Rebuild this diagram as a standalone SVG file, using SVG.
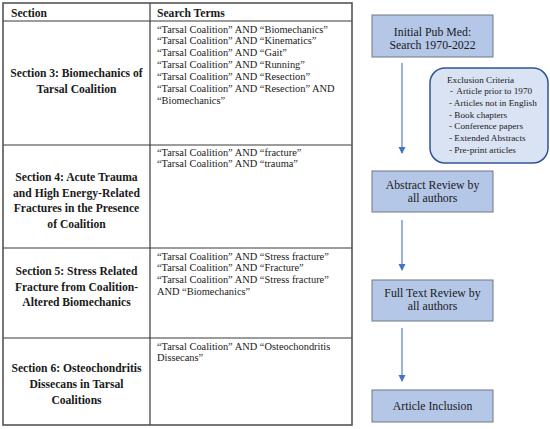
<svg xmlns="http://www.w3.org/2000/svg" width="550" height="429" viewBox="0 0 550 429">
<style>
.grid{stroke:#3a3a3a;stroke-width:1.2;fill:none}
.outer{stroke:#555;stroke-width:1.6;fill:none}
.hd{font-family:"Liberation Serif",serif;font-weight:bold;font-size:11.6px;fill:#1a1a1a}
.sec{font-family:"Liberation Serif",serif;font-weight:bold;font-size:11.6px;fill:#1a1a1a;text-anchor:middle}
.term{font-family:"Liberation Serif",serif;font-size:10.4px;fill:#1a1a1a}
.box{fill:#B4C7E7;stroke:#6f7785;stroke-width:1}
.bt{font-family:"Liberation Serif",serif;font-size:11.8px;fill:#1a1a1a;text-anchor:middle}
.ex{font-family:"Liberation Serif",serif;font-size:9.2px;fill:#1a1a1a}
.arr{stroke:#4472C4;stroke-width:1.1;fill:none}
</style>
<defs>
<marker id="ah" markerWidth="8" markerHeight="8" refX="6" refY="3.5" orient="auto" markerUnits="userSpaceOnUse">
<path d="M0,0 L7,3.5 L0,7 Z" fill="#4472C4"/>
</marker>
</defs>
<rect width="550" height="429" fill="#fff"/>
<g id="table">
<line class="grid" x1="150" y1="3" x2="150" y2="425"/>
<line class="grid" x1="3" y1="21" x2="352" y2="21"/>
<line class="grid" x1="3" y1="145" x2="352" y2="145"/>
<line class="grid" x1="3" y1="248" x2="352" y2="248"/>
<line class="grid" x1="3" y1="338" x2="352" y2="338"/>
<rect class="outer" x="3" y="3" width="349" height="422"/>
<text class="hd" x="11" y="17">Section</text>
<text class="hd" x="157" y="17">Search Terms</text>
</g>
<g id="row3">
<text class="sec" x="76.5" y="77">Section 3: Biomechanics of</text>
<text class="sec" x="76.5" y="93">Tarsal Coalition</text>
<text class="term" x="157" y="32.5">“Tarsal Coalition” AND “Biomechanics”</text>
<text class="term" x="157" y="44.4">“Tarsal Coalition” AND “Kinematics”</text>
<text class="term" x="157" y="56.3">“Tarsal Coalition” AND “Gait”</text>
<text class="term" x="157" y="68.2">“Tarsal Coalition” AND “Running”</text>
<text class="term" x="157" y="80.1">“Tarsal Coalition” AND “Resection”</text>
<text class="term" x="157" y="92">“Tarsal Coalition” AND “Resection” AND</text>
<text class="term" x="157" y="103.9">“Biomechanics”</text>
</g>
<g id="row4">
<text class="sec" x="76.5" y="181">Section 4: Acute Trauma</text>
<text class="sec" x="76.5" y="196.5">and High Energy-Related</text>
<text class="sec" x="76.5" y="212">Fractures in the Presence</text>
<text class="sec" x="76.5" y="227.5">of Coalition</text>
<text class="term" x="157" y="155.5">“Tarsal Coalition” AND “fracture”</text>
<text class="term" x="157" y="167.4">“Tarsal Coalition” AND “trauma”</text>
</g>
<g id="row5">
<text class="sec" x="76.5" y="275">Section 5: Stress Related</text>
<text class="sec" x="76.5" y="291">Fracture from Coalition-</text>
<text class="sec" x="76.5" y="306">Altered Biomechanics</text>
<text class="term" x="157" y="259.5">“Tarsal Coalition” AND “Stress fracture”</text>
<text class="term" x="157" y="271.4">“Tarsal Coalition” AND “Fracture”</text>
<text class="term" x="157" y="283.3">“Tarsal Coalition” AND “Stress fracture”</text>
<text class="term" x="157" y="295.2">AND “Biomechanics”</text>
</g>
<g id="row6">
<text class="sec" x="76.5" y="372">Section 6: Osteochondritis</text>
<text class="sec" x="76.5" y="388">Dissecans in Tarsal</text>
<text class="sec" x="76.5" y="404">Coalitions</text>
<text class="term" x="157" y="349.5">“Tarsal Coalition” AND “Osteochondritis</text>
<text class="term" x="157" y="361.4">Dissecans”</text>
</g>
<g id="connectors">
<line class="arr" x1="402" y1="63" x2="402" y2="153" marker-end="url(#ah)"/>
<line class="arr" x1="402" y1="220" x2="402" y2="270" marker-end="url(#ah)"/>
<line class="arr" x1="402" y1="328" x2="402" y2="381" marker-end="url(#ah)"/>
</g>
<g id="initial">
<rect class="box" x="372" y="15" width="121" height="42"/>
<text class="bt" x="432.5" y="35.5">Initial Pub Med:</text>
<text class="bt" x="432.5" y="49">Search 1970-2022</text>
</g>
<g id="exclusion">
<rect x="430" y="68" width="118" height="95" rx="15" ry="15" fill="#DAE3F3" stroke="#2F5597" stroke-width="1.5"/>
<text class="ex" x="447" y="82.5">Exclusion Criteria</text>
<text class="ex" x="450" y="94.2">- <tspan dx="1.5">Article prior to 1970</tspan></text>
<text class="ex" x="449" y="105.9">- Articles not in English</text>
<text class="ex" x="449" y="117.6">- Book chapters</text>
<text class="ex" x="449" y="129.3">- Conference papers</text>
<text class="ex" x="449" y="141">- Extended Abstracts</text>
<text class="ex" x="449" y="152.5">- Pre-print articles</text>
</g>
<g id="abstract">
<rect class="box" x="372" y="171" width="121" height="41"/>
<text class="bt" x="432.5" y="188.5">Abstract Review by</text>
<text class="bt" x="432.5" y="202">all authors</text>
</g>
<g id="fulltext">
<rect class="box" x="372" y="280" width="121" height="41"/>
<text class="bt" x="432.5" y="296.5">Full Text Review by</text>
<text class="bt" x="432.5" y="310">all authors</text>
</g>
<g id="inclusion">
<rect class="box" x="372" y="390" width="121" height="32"/>
<text class="bt" x="432.5" y="410">Article Inclusion</text>
</g>
</svg>
